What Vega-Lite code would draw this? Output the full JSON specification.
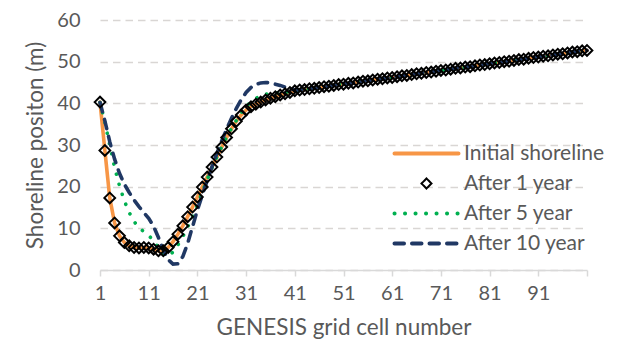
{
  "$schema": "https://vega.github.io/schema/vega-lite/v6.json",
  "autosize": "none",
  "width": 487,
  "height": 250,
  "padding": {"left": 100, "top": 20, "right": 46, "bottom": 77},
  "background": "#FFFFFF",
  "config": {
    "font": "Lato",
    "view": {"stroke": null},
    "axis": {
      "labelFont": "Lato",
      "titleFont": "Lato",
      "labelColor": "#595959",
      "titleColor": "#595959",
      "titleFontWeight": "normal",
      "labelFontSize": 20,
      "titleFontSize": 22.5
    }
  },
  "data": {
    "values": [
      {"cell": 1, "Initial shoreline": 40.3, "After 1 year": 40.3, "After 5 year": 40.2, "After 10 year": 40.2},
      {"cell": 2, "Initial shoreline": 28.7, "After 1 year": 28.7, "After 5 year": 35.5, "After 10 year": 35.8},
      {"cell": 3, "Initial shoreline": 17.3, "After 1 year": 17.3, "After 5 year": 30.0, "After 10 year": 30.8},
      {"cell": 4, "Initial shoreline": 11.3, "After 1 year": 11.3, "After 5 year": 24.6, "After 10 year": 26.6},
      {"cell": 5, "Initial shoreline": 8.2, "After 1 year": 8.2, "After 5 year": 20.2, "After 10 year": 23.2},
      {"cell": 6, "Initial shoreline": 6.6, "After 1 year": 6.6, "After 5 year": 16.6, "After 10 year": 20.6},
      {"cell": 7, "Initial shoreline": 5.8, "After 1 year": 5.8, "After 5 year": 13.8, "After 10 year": 18.6},
      {"cell": 8, "Initial shoreline": 5.4, "After 1 year": 5.4, "After 5 year": 11.6, "After 10 year": 16.8},
      {"cell": 9, "Initial shoreline": 5.3, "After 1 year": 5.3, "After 5 year": 10.2, "After 10 year": 15.2},
      {"cell": 10, "Initial shoreline": 5.4, "After 1 year": 5.4, "After 5 year": 9.2, "After 10 year": 13.8},
      {"cell": 11, "Initial shoreline": 5.3, "After 1 year": 5.3, "After 5 year": 8.3, "After 10 year": 12.4},
      {"cell": 12, "Initial shoreline": 5.0, "After 1 year": 5.0, "After 5 year": 7.0, "After 10 year": 10.5},
      {"cell": 13, "Initial shoreline": 4.6, "After 1 year": 4.6, "After 5 year": 5.3, "After 10 year": 7.8},
      {"cell": 14, "Initial shoreline": 4.6, "After 1 year": 4.6, "After 5 year": 3.8, "After 10 year": 4.8},
      {"cell": 15, "Initial shoreline": 5.4, "After 1 year": 5.4, "After 5 year": 3.4, "After 10 year": 2.5},
      {"cell": 16, "Initial shoreline": 6.8, "After 1 year": 6.8, "After 5 year": 4.3, "After 10 year": 1.4},
      {"cell": 17, "Initial shoreline": 8.6, "After 1 year": 8.6, "After 5 year": 6.0, "After 10 year": 1.5},
      {"cell": 18, "Initial shoreline": 10.6, "After 1 year": 10.6, "After 5 year": 8.0, "After 10 year": 3.2},
      {"cell": 19, "Initial shoreline": 12.8, "After 1 year": 12.8, "After 5 year": 10.3, "After 10 year": 6.4},
      {"cell": 20, "Initial shoreline": 15.1, "After 1 year": 15.1, "After 5 year": 12.8, "After 10 year": 10.4},
      {"cell": 21, "Initial shoreline": 17.5, "After 1 year": 17.5, "After 5 year": 15.6, "After 10 year": 14.4},
      {"cell": 22, "Initial shoreline": 19.9, "After 1 year": 19.9, "After 5 year": 18.7, "After 10 year": 18.0},
      {"cell": 23, "Initial shoreline": 22.3, "After 1 year": 22.3, "After 5 year": 21.7, "After 10 year": 21.4},
      {"cell": 24, "Initial shoreline": 24.7, "After 1 year": 24.7, "After 5 year": 24.5, "After 10 year": 24.8},
      {"cell": 25, "Initial shoreline": 27.1, "After 1 year": 27.1, "After 5 year": 27.1, "After 10 year": 28.0},
      {"cell": 26, "Initial shoreline": 29.5, "After 1 year": 29.5, "After 5 year": 29.6, "After 10 year": 31.0},
      {"cell": 27, "Initial shoreline": 31.8, "After 1 year": 31.8, "After 5 year": 31.9, "After 10 year": 33.8},
      {"cell": 28, "Initial shoreline": 33.9, "After 1 year": 33.9, "After 5 year": 34.0, "After 10 year": 36.4},
      {"cell": 29, "Initial shoreline": 35.7, "After 1 year": 35.7, "After 5 year": 35.9, "After 10 year": 38.8},
      {"cell": 30, "Initial shoreline": 37.2, "After 1 year": 37.2, "After 5 year": 37.7, "After 10 year": 40.9},
      {"cell": 31, "Initial shoreline": 38.4, "After 1 year": 38.4, "After 5 year": 39.2, "After 10 year": 42.6},
      {"cell": 32, "Initial shoreline": 39.2, "After 1 year": 39.2, "After 5 year": 40.4, "After 10 year": 43.8},
      {"cell": 33, "Initial shoreline": 39.8, "After 1 year": 39.8, "After 5 year": 41.2, "After 10 year": 44.5},
      {"cell": 34, "Initial shoreline": 40.3, "After 1 year": 40.3, "After 5 year": 41.8, "After 10 year": 44.9},
      {"cell": 35, "Initial shoreline": 40.8, "After 1 year": 40.8, "After 5 year": 42.2, "After 10 year": 45.0},
      {"cell": 36, "Initial shoreline": 41.2, "After 1 year": 41.2, "After 5 year": 42.4, "After 10 year": 44.9},
      {"cell": 37, "Initial shoreline": 41.6, "After 1 year": 41.6, "After 5 year": 42.5, "After 10 year": 44.6},
      {"cell": 38, "Initial shoreline": 42.0, "After 1 year": 42.0, "After 5 year": 42.6, "After 10 year": 44.3},
      {"cell": 39, "Initial shoreline": 42.3, "After 1 year": 42.3, "After 5 year": 42.7, "After 10 year": 43.9},
      {"cell": 40, "Initial shoreline": 42.6, "After 1 year": 42.6, "After 5 year": 42.8, "After 10 year": 43.5},
      {"cell": 41, "Initial shoreline": 43.0, "After 1 year": 43.0, "After 5 year": 43.0, "After 10 year": 43.2},
      {"cell": 42, "Initial shoreline": 43.2, "After 1 year": 43.2, "After 5 year": 43.2, "After 10 year": 43.2},
      {"cell": 43, "Initial shoreline": 43.3, "After 1 year": 43.3, "After 5 year": 43.3, "After 10 year": 43.3},
      {"cell": 44, "Initial shoreline": 43.5, "After 1 year": 43.5, "After 5 year": 43.5, "After 10 year": 43.5},
      {"cell": 45, "Initial shoreline": 43.6, "After 1 year": 43.6, "After 5 year": 43.6, "After 10 year": 43.6},
      {"cell": 46, "Initial shoreline": 43.8, "After 1 year": 43.8, "After 5 year": 43.8, "After 10 year": 43.8},
      {"cell": 47, "Initial shoreline": 44.0, "After 1 year": 44.0, "After 5 year": 44.0, "After 10 year": 44.0},
      {"cell": 48, "Initial shoreline": 44.1, "After 1 year": 44.1, "After 5 year": 44.1, "After 10 year": 44.1},
      {"cell": 49, "Initial shoreline": 44.3, "After 1 year": 44.3, "After 5 year": 44.3, "After 10 year": 44.3},
      {"cell": 50, "Initial shoreline": 44.5, "After 1 year": 44.5, "After 5 year": 44.5, "After 10 year": 44.5},
      {"cell": 51, "Initial shoreline": 44.6, "After 1 year": 44.6, "After 5 year": 44.6, "After 10 year": 44.6},
      {"cell": 52, "Initial shoreline": 44.8, "After 1 year": 44.8, "After 5 year": 44.8, "After 10 year": 44.8},
      {"cell": 53, "Initial shoreline": 44.9, "After 1 year": 44.9, "After 5 year": 44.9, "After 10 year": 44.9},
      {"cell": 54, "Initial shoreline": 45.1, "After 1 year": 45.1, "After 5 year": 45.1, "After 10 year": 45.1},
      {"cell": 55, "Initial shoreline": 45.3, "After 1 year": 45.3, "After 5 year": 45.3, "After 10 year": 45.3},
      {"cell": 56, "Initial shoreline": 45.4, "After 1 year": 45.4, "After 5 year": 45.4, "After 10 year": 45.4},
      {"cell": 57, "Initial shoreline": 45.6, "After 1 year": 45.6, "After 5 year": 45.6, "After 10 year": 45.6},
      {"cell": 58, "Initial shoreline": 45.8, "After 1 year": 45.8, "After 5 year": 45.8, "After 10 year": 45.8},
      {"cell": 59, "Initial shoreline": 45.9, "After 1 year": 45.9, "After 5 year": 45.9, "After 10 year": 45.9},
      {"cell": 60, "Initial shoreline": 46.1, "After 1 year": 46.1, "After 5 year": 46.1, "After 10 year": 46.1},
      {"cell": 61, "Initial shoreline": 46.2, "After 1 year": 46.2, "After 5 year": 46.2, "After 10 year": 46.2},
      {"cell": 62, "Initial shoreline": 46.4, "After 1 year": 46.4, "After 5 year": 46.4, "After 10 year": 46.4},
      {"cell": 63, "Initial shoreline": 46.6, "After 1 year": 46.6, "After 5 year": 46.6, "After 10 year": 46.6},
      {"cell": 64, "Initial shoreline": 46.7, "After 1 year": 46.7, "After 5 year": 46.7, "After 10 year": 46.7},
      {"cell": 65, "Initial shoreline": 46.9, "After 1 year": 46.9, "After 5 year": 46.9, "After 10 year": 46.9},
      {"cell": 66, "Initial shoreline": 47.1, "After 1 year": 47.1, "After 5 year": 47.1, "After 10 year": 47.1},
      {"cell": 67, "Initial shoreline": 47.2, "After 1 year": 47.2, "After 5 year": 47.2, "After 10 year": 47.2},
      {"cell": 68, "Initial shoreline": 47.4, "After 1 year": 47.4, "After 5 year": 47.4, "After 10 year": 47.4},
      {"cell": 69, "Initial shoreline": 47.5, "After 1 year": 47.5, "After 5 year": 47.5, "After 10 year": 47.5},
      {"cell": 70, "Initial shoreline": 47.7, "After 1 year": 47.7, "After 5 year": 47.7, "After 10 year": 47.7},
      {"cell": 71, "Initial shoreline": 47.9, "After 1 year": 47.9, "After 5 year": 47.9, "After 10 year": 47.9},
      {"cell": 72, "Initial shoreline": 48.0, "After 1 year": 48.0, "After 5 year": 48.0, "After 10 year": 48.0},
      {"cell": 73, "Initial shoreline": 48.2, "After 1 year": 48.2, "After 5 year": 48.2, "After 10 year": 48.2},
      {"cell": 74, "Initial shoreline": 48.4, "After 1 year": 48.4, "After 5 year": 48.4, "After 10 year": 48.4},
      {"cell": 75, "Initial shoreline": 48.5, "After 1 year": 48.5, "After 5 year": 48.5, "After 10 year": 48.5},
      {"cell": 76, "Initial shoreline": 48.7, "After 1 year": 48.7, "After 5 year": 48.7, "After 10 year": 48.7},
      {"cell": 77, "Initial shoreline": 48.8, "After 1 year": 48.8, "After 5 year": 48.8, "After 10 year": 48.8},
      {"cell": 78, "Initial shoreline": 49.0, "After 1 year": 49.0, "After 5 year": 49.0, "After 10 year": 49.0},
      {"cell": 79, "Initial shoreline": 49.2, "After 1 year": 49.2, "After 5 year": 49.2, "After 10 year": 49.2},
      {"cell": 80, "Initial shoreline": 49.3, "After 1 year": 49.3, "After 5 year": 49.3, "After 10 year": 49.3},
      {"cell": 81, "Initial shoreline": 49.5, "After 1 year": 49.5, "After 5 year": 49.5, "After 10 year": 49.5},
      {"cell": 82, "Initial shoreline": 49.7, "After 1 year": 49.7, "After 5 year": 49.7, "After 10 year": 49.7},
      {"cell": 83, "Initial shoreline": 49.8, "After 1 year": 49.8, "After 5 year": 49.8, "After 10 year": 49.8},
      {"cell": 84, "Initial shoreline": 50.0, "After 1 year": 50.0, "After 5 year": 50.0, "After 10 year": 50.0},
      {"cell": 85, "Initial shoreline": 50.1, "After 1 year": 50.1, "After 5 year": 50.1, "After 10 year": 50.1},
      {"cell": 86, "Initial shoreline": 50.3, "After 1 year": 50.3, "After 5 year": 50.3, "After 10 year": 50.3},
      {"cell": 87, "Initial shoreline": 50.5, "After 1 year": 50.5, "After 5 year": 50.5, "After 10 year": 50.5},
      {"cell": 88, "Initial shoreline": 50.6, "After 1 year": 50.6, "After 5 year": 50.6, "After 10 year": 50.6},
      {"cell": 89, "Initial shoreline": 50.8, "After 1 year": 50.8, "After 5 year": 50.8, "After 10 year": 50.8},
      {"cell": 90, "Initial shoreline": 51.0, "After 1 year": 51.0, "After 5 year": 51.0, "After 10 year": 51.0},
      {"cell": 91, "Initial shoreline": 51.1, "After 1 year": 51.1, "After 5 year": 51.1, "After 10 year": 51.1},
      {"cell": 92, "Initial shoreline": 51.3, "After 1 year": 51.3, "After 5 year": 51.3, "After 10 year": 51.3},
      {"cell": 93, "Initial shoreline": 51.4, "After 1 year": 51.4, "After 5 year": 51.4, "After 10 year": 51.4},
      {"cell": 94, "Initial shoreline": 51.6, "After 1 year": 51.6, "After 5 year": 51.6, "After 10 year": 51.6},
      {"cell": 95, "Initial shoreline": 51.8, "After 1 year": 51.8, "After 5 year": 51.8, "After 10 year": 51.8},
      {"cell": 96, "Initial shoreline": 51.9, "After 1 year": 51.9, "After 5 year": 51.9, "After 10 year": 51.9},
      {"cell": 97, "Initial shoreline": 52.1, "After 1 year": 52.1, "After 5 year": 52.1, "After 10 year": 52.1},
      {"cell": 98, "Initial shoreline": 52.3, "After 1 year": 52.3, "After 5 year": 52.3, "After 10 year": 52.3},
      {"cell": 99, "Initial shoreline": 52.4, "After 1 year": 52.4, "After 5 year": 52.4, "After 10 year": 52.4},
      {"cell": 100, "Initial shoreline": 52.6, "After 1 year": 52.6, "After 5 year": 52.6, "After 10 year": 52.6},
      {"cell": 101, "Initial shoreline": 52.7, "After 1 year": 52.7, "After 5 year": 52.7, "After 10 year": 52.7}
    ]
  },
  "transform": [
    {"fold": ["Initial shoreline", "After 1 year", "After 5 year", "After 10 year"], "as": ["series", "value"]}
  ],
  "encoding": {
    "x": {
      "field": "cell",
      "type": "quantitative",
      "scale": {"domain": [1, 101], "nice": false, "zero": false},
      "axis": {
        "title": "GENESIS grid cell number",
        "values": [1, 11, 21, 31, 41, 51, 61, 71, 81, 91, 101],
        "labelExpr": "datum.value == 101 ? '' : datum.label",
        "grid": false,
        "domainColor": "#D9D9D9",
        "domainWidth": 1.5,
        "tickColor": "#D9D9D9",
        "tickWidth": 1.5,
        "tickSize": 6,
        "labelPadding": 7,
        "titlePadding": 13,
        "labelFlush": false
      }
    },
    "y": {
      "field": "value",
      "type": "quantitative",
      "scale": {"domain": [0, 60], "nice": false},
      "axis": {
        "title": "Shoreline positon (m)",
        "values": [0, 10, 20, 30, 40, 50, 60],
        "domain": false,
        "ticks": false,
        "tickSize": 0,
        "labelPadding": 20,
        "titlePadding": 9,
        "grid": true,
        "gridColor": "#D9D6D4",
        "gridWidth": 1.5,
        "gridDash": [7.5, 5]
      }
    }
  },
  "layer": [
    {
      "transform": [{"filter": "datum.series != 'After 1 year'"}],
      "mark": {"type": "line", "strokeWidth": 3.6, "strokeCap": "round"},
      "encoding": {
        "color": {
          "field": "series",
          "type": "nominal",
          "sort": null,
          "scale": {
            "domain": ["Initial shoreline", "After 1 year", "After 5 year", "After 10 year"],
            "range": ["#F79646", "#000000", "#00B050", "#203864"]
          },
          "legend": {
            "title": null,
            "orient": "none",
            "legendX": 316,
            "legendY": 123,
            "padding": 0,
            "symbolSize": 100,
            "symbolStrokeWidth": 4,
            "labelFont": "Lato",
            "labelFontSize": 21,
            "labelColor": "#595959",
            "labelOffset": 27,
            "rowPadding": 8,
            "encode": {
              "symbols": {
                "update": {
                  "shape": {"signal": "datum.value === 'After 1 year' ? 'diamond' : 'M-6.4,0L6.4,0'"},
                  "strokeDash": {"signal": "datum.value === 'After 5 year' ? [0.1, 10.3] : datum.value === 'After 10 year' ? [10.5, 8.5] : [1, 0]"},
                  "strokeWidth": {"signal": "datum.value === 'After 1 year' ? 2 : 4"},
                  "strokeCap": {"value": "round"},
                  "fill": {"value": "transparent"},
                  "stroke": {"signal": "datum.value === 'Initial shoreline' ? '#F79646' : datum.value === 'After 1 year' ? '#000000' : datum.value === 'After 5 year' ? '#00B050' : '#203864'"},
                  "opacity": {"value": 1}
                }
              }
            }
          }
        },
        "strokeDash": {
          "field": "series",
          "type": "nominal",
          "sort": null,
          "scale": {
            "domain": ["Initial shoreline", "After 1 year", "After 5 year", "After 10 year"],
            "range": [[1, 0], [1, 0], [0.1, 10.4], [9.5, 8]]
          },
          "legend": null
        }
      }
    },
    {
      "transform": [{"filter": "datum.series == 'After 1 year'"}],
      "mark": {"type": "point", "shape": "diamond", "filled": false, "size": 115, "strokeWidth": 2, "opacity": 1},
      "encoding": {
        "color": {"field": "series", "type": "nominal", "sort": null}
      }
    }
  ]
}
